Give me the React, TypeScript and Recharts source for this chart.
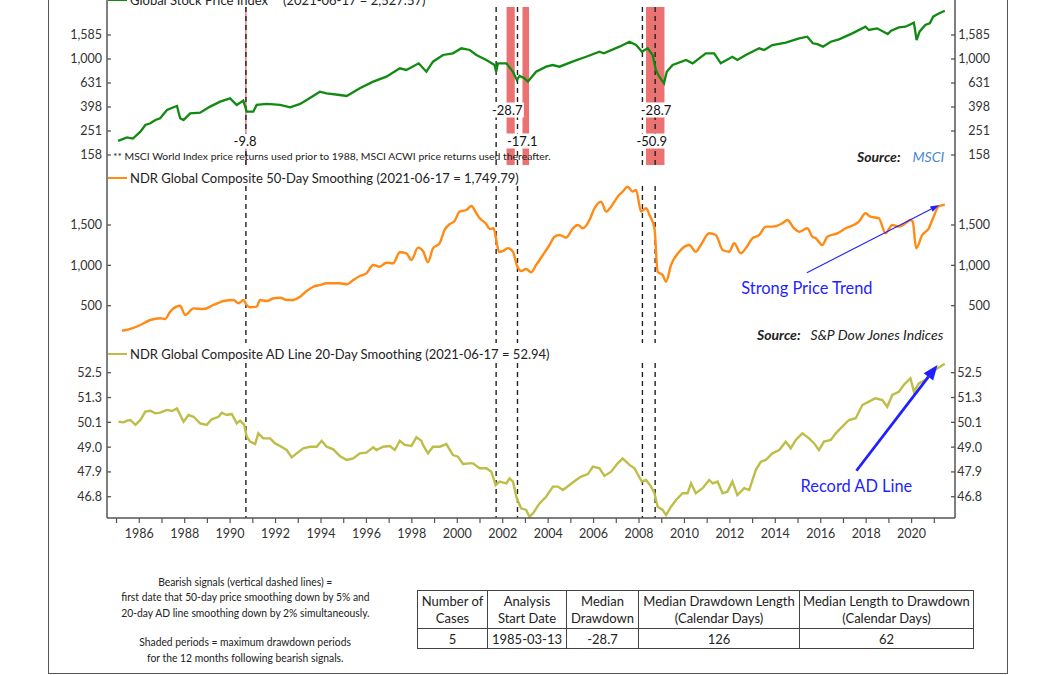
import React from 'react';
import { LineChart, Line, XAxis, YAxis, ReferenceLine, ReferenceArea } from 'recharts';

// ---------------- data ----------------
const stockYears = [
  1985.07, 1985.46, 1985.72, 1986.05, 1986.27, 1986.49, 1986.71, 1986.92, 1987.22, 1987.51,
  1987.66, 1987.80, 1987.95, 1988.24, 1988.68, 1989.12, 1989.56, 1990.00, 1990.29, 1990.58,
  1990.73, 1991.02, 1991.17, 1991.61, 1992.20, 1992.64, 1993.08, 1993.37, 1993.95, 1994.25,
  1994.83, 1995.13, 1995.71, 1996.30, 1996.88, 1997.47, 1997.76, 1998.30, 1998.64, 1998.93,
  1999.37, 1999.81, 2000.18, 2000.55, 2000.84, 2001.28, 2001.64, 2001.71, 2001.79, 2002.16,
  2002.45, 2002.62, 2002.74, 2002.96, 2003.11, 2003.47, 2003.91, 2004.20, 2004.50, 2005.07,
  2005.67, 2006.26, 2006.45, 2007.14, 2007.58, 2007.87, 2008.13, 2008.38, 2008.60, 2008.74,
  2008.89, 2009.10, 2009.22, 2009.48, 2010.07, 2010.36, 2010.94, 2011.31, 2011.60, 2012.11,
  2012.33, 2012.70, 2013.29, 2013.51, 2013.87, 2014.46, 2015.05, 2015.41, 2015.65, 2015.85,
  2016.10, 2016.44, 2016.80, 2017.39, 2017.97, 2018.12, 2018.48, 2018.95, 2019.10, 2019.44,
  2019.73, 2020.10, 2020.22, 2020.35, 2020.60, 2020.80, 2020.95, 2021.15, 2021.46,
];
const stockValues = [
  208, 222, 217, 248, 282, 291, 310, 321, 376, 396,
  406, 321, 310, 352, 357, 401, 441, 470, 414, 450,
  364, 364, 414, 422, 414, 396, 422, 455, 534, 517,
  501, 492, 570, 648, 712, 836, 810, 920, 783, 950,
  1080, 1115, 1227, 1189, 1080, 981, 891, 783, 920, 920,
  783, 668, 722, 690, 648, 783, 863, 891, 863, 950,
  1044, 1151, 1115, 1267, 1393, 1308, 1151, 1227, 1080, 810,
  712, 627, 783, 891, 981, 920, 1115, 1115, 920, 1044,
  981, 1080, 1227, 1189, 1308, 1368, 1486, 1535, 1351, 1330,
  1267, 1393, 1459, 1636, 1859, 1745, 1801, 1616, 1722, 1836,
  1859, 2008, 1439, 1690, 1919, 1983, 2253, 2371, 2527.57,
];

const navYears = [
  1985.24, 1985.68, 1986.05, 1986.49, 1986.92, 1987.14, 1987.36, 1987.80, 1988.02, 1988.39,
  1988.83, 1989.27, 1989.71, 1990.15, 1990.37, 1990.59, 1990.73, 1990.88, 1991.17, 1991.32,
  1991.61, 1991.91, 1992.20, 1992.50, 1992.79, 1993.08, 1993.37, 1993.66, 1993.95, 1994.25,
  1994.54, 1994.83, 1995.13, 1995.42, 1995.71, 1996.00, 1996.30, 1996.59, 1996.88, 1997.18,
  1997.47, 1997.76, 1997.98, 1998.27, 1998.49, 1998.71, 1998.93, 1999.22, 1999.44, 1999.66,
  1999.88, 2000.10, 2000.40, 2000.62, 2000.84, 2000.99, 2001.25, 2001.45, 2001.60, 2001.69,
  2001.84, 2002.01, 2002.23, 2002.45, 2002.62, 2002.81, 2003.03, 2003.25, 2003.47, 2003.77,
  2004.06, 2004.28, 2004.50, 2004.79, 2005.09, 2005.31, 2005.53, 2005.82, 2006.04, 2006.33,
  2006.55, 2006.77, 2007.06, 2007.28, 2007.50, 2007.72, 2007.87, 2008.09, 2008.31, 2008.46,
  2008.68, 2008.82, 2009.04, 2009.19, 2009.41, 2009.77, 2010.21, 2010.50, 2010.72, 2011.09,
  2011.38, 2011.68, 2011.97, 2012.19, 2012.48, 2012.70, 2012.99, 2013.29, 2013.58, 2013.87,
  2014.31, 2014.53, 2014.82, 2015.05, 2015.41, 2015.63, 2015.78, 2016.07, 2016.29, 2016.73,
  2017.10, 2017.68, 2017.97, 2018.19, 2018.56, 2018.85, 2019.15, 2019.44, 2019.73, 2019.95,
  2020.05, 2020.20, 2020.47, 2020.76, 2020.94, 2021.20, 2021.46,
];
const navValues = [
  190, 220, 261, 323, 344, 335, 426, 500, 385, 467,
  459, 509, 558, 571, 530, 571, 509, 480, 488, 571,
  558, 592, 599, 571, 571, 612, 682, 735, 756, 778,
  778, 778, 765, 818, 868, 901, 1004, 983, 1033, 1025,
  1162, 1149, 1066, 1219, 1178, 1038, 1211, 1273, 1438, 1509,
  1549, 1665, 1686, 1735, 1645, 1583, 1520, 1450, 1460, 1355,
  1165, 1178, 1211, 1169, 1004, 930, 955, 914, 1004, 1128,
  1252, 1355, 1376, 1343, 1459, 1500, 1459, 1562, 1707, 1789,
  1665, 1727, 1851, 1913, 1974, 1913, 1934, 1665, 1707, 1624,
  1459, 921, 881, 797, 1004, 1169, 1252, 1169, 1252, 1397,
  1376, 1190, 1169, 1273, 1149, 1211, 1335, 1376, 1479, 1479,
  1521, 1562, 1459, 1417, 1459, 1355, 1335, 1252, 1355, 1397,
  1459, 1541, 1645, 1603, 1583, 1397, 1500, 1479, 1521, 1562,
  1541, 1211, 1376, 1459, 1583, 1732, 1749.79,
];

const adYears = [
  1985.09, 1985.31, 1985.46, 1985.61, 1985.83, 1986.05, 1986.27, 1986.49, 1986.70, 1986.92,
  1987.22, 1987.44, 1987.66, 1987.95, 1988.17, 1988.39, 1988.68, 1988.97, 1989.19, 1989.49,
  1989.63, 1989.85, 1990.07, 1990.29, 1990.44, 1990.62, 1990.73, 1990.88, 1991.10, 1991.24,
  1991.46, 1991.76, 1991.98, 1992.20, 1992.49, 1992.71, 1992.93, 1993.22, 1993.52, 1993.81,
  1994.03, 1994.25, 1994.54, 1994.83, 1995.13, 1995.42, 1995.71, 1996.00, 1996.30, 1996.44,
  1996.74, 1997.03, 1997.25, 1997.47, 1997.69, 1997.98, 1998.20, 1998.42, 1998.49, 1998.71,
  1998.93, 1999.23, 1999.52, 1999.81, 2000.03, 2000.25, 2000.54, 2000.69, 2000.98, 2001.28,
  2001.50, 2001.69, 2001.86, 2002.16, 2002.30, 2002.45, 2002.62, 2002.81, 2003.03, 2003.18,
  2003.33, 2003.62, 2003.91, 2004.21, 2004.43, 2004.65, 2004.94, 2005.23, 2005.45, 2005.75,
  2005.97, 2006.26, 2006.48, 2006.77, 2007.06, 2007.28, 2007.58, 2007.80, 2008.12, 2008.31,
  2008.53, 2008.68, 2008.82, 2009.04, 2009.19, 2009.41, 2009.63, 2009.92, 2010.14, 2010.29,
  2010.50, 2010.80, 2011.09, 2011.24, 2011.46, 2011.68, 2011.89, 2012.11, 2012.33, 2012.63,
  2012.85, 2013.14, 2013.36, 2013.58, 2013.87, 2014.17, 2014.46, 2014.68, 2014.90, 2015.19,
  2015.49, 2015.71, 2015.92, 2016.14, 2016.44, 2016.66, 2016.95, 2017.24, 2017.54, 2017.83,
  2018.12, 2018.41, 2018.71, 2018.93, 2019.15, 2019.44, 2019.66, 2019.95, 2020.10, 2020.32,
  2020.61, 2020.90, 2021.46,
];
const adValues = [
  50.17, 50.14, 50.22, 50.25, 50.02, 50.25, 50.64, 50.68, 50.56, 50.59,
  50.72, 50.67, 50.79, 50.17, 50.48, 50.40, 50.09, 50.02, 50.28, 50.40,
  50.59, 50.48, 50.53, 50.09, 50.22, 50.02, 49.48, 49.25, 49.14, 49.63,
  49.40, 49.40, 49.17, 49.05, 48.87, 48.54, 48.72, 48.95, 49.02, 49.02,
  49.29, 49.02, 48.90, 48.60, 48.42, 48.49, 48.72, 48.75, 48.99, 48.87,
  49.02, 49.05, 48.87, 49.29, 49.10, 49.05, 49.45, 49.29, 49.10, 48.72,
  49.02, 49.02, 49.14, 48.64, 48.57, 48.24, 48.27, 48.27, 48.05, 48.05,
  47.90, 47.31, 47.46, 47.38, 47.60, 47.46, 46.73, 46.30, 46.23, 45.94,
  46.08, 46.51, 46.80, 47.24, 47.24, 47.09, 47.31, 47.53, 47.68, 47.79,
  48.12, 48.05, 47.71, 47.90, 48.27, 48.49, 48.20, 48.05, 47.46, 47.53,
  47.24, 46.95, 46.37, 46.23, 46.01, 46.37, 46.66, 46.95, 46.95, 47.38,
  46.95, 47.17, 47.53, 47.38, 47.46, 46.95, 47.02, 47.46, 46.87, 47.17,
  47.09, 47.97, 48.34, 48.42, 48.72, 48.87, 49.25, 48.95, 49.33, 49.63,
  49.40, 49.17, 48.87, 49.25, 49.33, 49.63, 49.94, 50.25, 50.33, 50.95,
  51.11, 51.27, 51.19, 50.87, 51.43, 51.58, 51.91, 52.23, 51.58, 51.98,
  52.15, 52.55, 52.94,
];

const yearTicks = [
  1985, 1986, 1987, 1988, 1989, 1990, 1991, 1992, 1993, 1994, 1995, 1996, 1997,
  1998, 1999, 2000, 2001, 2002, 2003, 2004, 2005, 2006, 2007, 2008, 2009, 2010,
  2011, 2012, 2013, 2014, 2015, 2016, 2017, 2018, 2019, 2020, 2021,
];
const stockTicks = [158.49, 251.19, 398.11, 630.96, 1000, 1584.89];
const stockTickLabels = ['158', '251', '398', '631', '1,000', '1,585'];
const navTicks = [500, 1000, 1500];
const navTickLabels = ['500', '1,000', '1,500'];
const adTicks = [46.8, 47.888, 49.001, 50.14, 51.306, 52.5];
const adTickLabels = ['46.8', '47.9', '49.0', '50.1', '51.3', '52.5'];

const signalYears = [1990.695, 2001.71, 2002.65, 2008.15, 2008.71];
const drawdownStarts = [1990.665, 2002.17, 2002.87, 2008.31];
const drawdownEnds = [1990.725, 2002.53, 2003.16, 2009.12];
const drawdownLabelYears = [1990.66, 2002.2, 2002.86, 2008.75, 2008.56];
const drawdownLabelTexts = ['-9.8', '-28.7', '-17.1', '-28.7', '-50.9'];
const drawdownLabelTier = [0, 1, 0, 1, 0];

const priceArrow = [{ x: 2015.39, y: 909 }, { x: 2021.22, y: 1748 }];
const adArrow = [{ x: 2017.57, y: 47.94 }, { x: 2021.14, y: 52.88 }];

const tableHeaders = [
  ['Number of', 'Cases'],
  ['Analysis', 'Start Date'],
  ['Median', 'Drawdown'],
  ['Median Drawdown Length', '(Calendar Days)'],
  ['Median Length to Drawdown', '(Calendar Days)'],
];
const tableValues = ['5', '1985-03-13', '-28.7', '126', '62'];
const notesTop = [
  'Bearish signals (vertical dashed lines) =',
  'first date that 50-day price smoothing down by 5% and',
  '20-day AD line smoothing down by 2% simultaneously.',
];
const notesBottom = [
  'Shaded periods = maximum drawdown periods',
  'for the 12 months following bearish signals.',
];

// ---------------- style ----------------
const FONT = 'Lato, "DejaVu Sans", sans-serif';
const AXIS = '#555';
const GREEN = '#108a10';
const ORANGE = '#ff8a14';
const OLIVE = '#bdbd48';
const RED = '#ea7272';
const BLUE = '#1f1fff';

const X_DOMAIN: [number, number] = [1984.58, 2021.91];
const STOCK_DOMAIN: [number, number] = [130.8, 3981];
const NAV_DOMAIN: [number, number] = [38, 2243];
const AD_DOMAIN: [number, number] = [45.886, 53.965];

const stockData = stockYears.map((x, i) => ({ x, v: stockValues[i] }));
const navData = navYears.map((x, i) => ({ x, v: navValues[i] }));
const adData = adYears.map((x, i) => ({ x, v: adValues[i] }));

const yTick = (ticks: number[], labels: string[], side: 'l' | 'r', edge: number) => (props: any) => {
  const { x, y, payload } = props;
  let best = 0;
  for (let i = 1; i < ticks.length; i++) {
    if (Math.abs(ticks[i] - payload.value) < Math.abs(ticks[best] - payload.value)) best = i;
  }
  const inward = side === 'l' ? 4 : -4;
  return (
    <g>
      <line x1={x} x2={x + inward} y1={y} y2={y} stroke={AXIS} strokeWidth={1.3} />
      <text
        x={side === 'l' ? x - 5 : x + edge}
        y={y}
        dy="0.355em"
        textAnchor="end"
        fontSize={12.5}
        fill="#333"
        style={{ fontFamily: FONT }}
      >
        {labels[best]}
      </text>
    </g>
  );
};

const dashShape = (offset: number) => (p: any) => {
  const top = Math.min(p.y1, p.y2) + offset;
  const bottom = Math.max(p.y1, p.y2);
  return <line x1={p.x1} x2={p.x2} y1={top} y2={bottom} stroke="#222" strokeWidth={1.4} strokeDasharray="5 4" />;
};

const areaShape = (offset: number) => (p: any) => (
  <rect x={p.x} y={p.y + offset} width={Math.max(p.width, 1.2)} height={p.height - offset} fill={RED} />
);

const charW = (c: string) => (c === '-' ? 4.4 : c === '.' ? 3.2 : 7.5);
const ddLabel = (text: string, tier: number) => (props: any) => {
  const vb = props.viewBox || {};
  const cx = vb.x;
  const bottom = vb.y + vb.height;
  const cy = bottom - (tier ? 55 : 24);
  const w = text.split('').reduce((s, c) => s + charW(c), 0);
  return (
    <g>
      <rect x={cx - w / 2 - 1.5} y={cy - 7.5} width={w + 3} height={15} fill="#fff" />
      <text x={cx} y={cy} dy="0.36em" textAnchor="middle" fontSize={13} fill="#111" style={{ fontFamily: FONT }}>
        {text}
      </text>
    </g>
  );
};

const arrowShape = (w: number, headLen: number, headW: number, text: string) => (p: any) => {
  const { x1, y1, x2, y2 } = p;
  const ang = Math.atan2(y2 - y1, x2 - x1);
  const hx = x2 - headLen * Math.cos(ang);
  const hy = y2 - headLen * Math.sin(ang);
  const px = Math.sin(ang) * headW / 2;
  const py = -Math.cos(ang) * headW / 2;
  return (
    <g>
      <line x1={x1} y1={y1} x2={hx} y2={hy} stroke={BLUE} strokeWidth={w} />
      <polygon points={`${x2},${y2} ${hx + px},${hy + py} ${hx - px},${hy - py}`} fill={BLUE} />
      <text x={x1} y={y1 + 15} dy="0.36em" textAnchor="middle" fontSize={16.4} fill={BLUE} style={{ fontFamily: FONT }}>
        {text}
      </text>
    </g>
  );
};

const axisLine = { stroke: AXIS, strokeWidth: 1.5 };

function yAxes(ticks: number[], labels: string[], domain: [number, number], log: boolean, edge: number) {
  return [
    <YAxis
      key="l"
      yAxisId="l"
      orientation="left"
      type="number"
      scale={log ? 'log' : 'linear'}
      domain={domain}
      allowDataOverflow
      ticks={ticks}
      interval={0}
      width={107}
      tickSize={0}
      tickMargin={0}
      tickLine={false}
      axisLine={axisLine}
      tick={yTick(ticks, labels, 'l', 0)}
    />,
    <YAxis
      key="r"
      yAxisId="r"
      orientation="right"
      type="number"
      scale={log ? 'log' : 'linear'}
      domain={domain}
      allowDataOverflow
      ticks={ticks}
      interval={0}
      width={101}
      tickSize={0}
      tickMargin={0}
      tickLine={false}
      axisLine={axisLine}
      tick={yTick(ticks, labels, 'r', edge)}
    />,
  ];
}

function dashLines(offset: number) {
  return signalYears.map((s, i) => (
    <ReferenceLine key={'s' + i} x={s} yAxisId="l" shape={dashShape(offset)} ifOverflow="visible" />
  ));
}

function Legend({ cy, color, children }: any) {
  return (
    <div
      style={{
        position: 'absolute',
        left: 108,
        top: cy - 9,
        height: 18,
        display: 'flex',
        alignItems: 'center',
        fontSize: 13,
        color: '#222',
        whiteSpace: 'nowrap',
      }}
    >
      <span style={{ display: 'inline-block', width: 19, height: 2, background: color, marginRight: 3 }} />
      {children}
    </div>
  );
}

const abs = (left: number, cy: number, extra: any = {}) => ({
  position: 'absolute' as const,
  left,
  top: cy - 8,
  height: 16,
  lineHeight: '16px',
  whiteSpace: 'nowrap' as const,
  ...extra,
});

export default function App() {
  return (
    <div
      style={{
        position: 'absolute',
        left: 0,
        top: 0,
        width: 1056,
        height: 675,
        overflow: 'hidden',
        background: '#fff',
        fontFamily: FONT,
        color: '#222',
      }}
    >
      {/* outer frame */}
      <div
        style={{
          position: 'absolute',
          left: 48,
          top: -20,
          width: 960,
          height: 694,
          boxSizing: 'border-box',
          borderLeft: '1.5px solid #555',
          borderRight: '1.5px solid #555',
          borderBottom: '1.5px solid #555',
        }}
      />

      {/* Panel 1: Global Stock Price Index */}
      <div style={{ position: 'absolute', left: 0, top: -13 }}>
        <LineChart width={1056} height={179} data={stockData} margin={{ top: 0, right: 0, bottom: 1, left: 0 }}>
          <XAxis type="number" dataKey="x" domain={X_DOMAIN} allowDataOverflow height={0} tick={false} tickLine={false} axisLine={axisLine} />
          {yAxes(stockTicks, stockTickLabels, STOCK_DOMAIN, true, 35)}
          {drawdownStarts.map((s, i) => (
            <ReferenceArea key={'a' + i} yAxisId="l" x1={s} x2={drawdownEnds[i]} shape={areaShape(20)} ifOverflow="visible" />
          ))}
          {dashLines(20)}
          <Line yAxisId="l" dataKey="v" type="linear" stroke={GREEN} strokeWidth={2.3} dot={false} isAnimationActive={false} />
          {drawdownLabelYears.map((yr, i) => (
            <ReferenceLine
              key={'lb' + i}
              x={yr}
              yAxisId="l"
              stroke="none"
              ifOverflow="visible"
              label={ddLabel(drawdownLabelTexts[i], drawdownLabelTier[i])}
            />
          ))}
        </LineChart>
      </div>

      {/* Panel 2: 50-day smoothing */}
      <div style={{ position: 'absolute', left: 0, top: 165 }}>
        <LineChart width={1056} height={179} data={navData} margin={{ top: 0, right: 0, bottom: 1, left: 0 }}>
          <XAxis type="number" dataKey="x" domain={X_DOMAIN} allowDataOverflow height={0} tick={false} tickLine={false} axisLine={axisLine} />
          {yAxes(navTicks, navTickLabels, NAV_DOMAIN, false, 35)}
          {dashLines(21)}
          <Line yAxisId="l" dataKey="v" type="monotone" stroke={ORANGE} strokeWidth={2.4} dot={false} isAnimationActive={false} />
          <ReferenceLine yAxisId="l" segment={priceArrow} ifOverflow="visible" shape={arrowShape(1.1, 9, 6, 'Strong Price Trend')} />
        </LineChart>
      </div>

      {/* Panel 3: AD line */}
      <div style={{ position: 'absolute', left: 0, top: 343 }}>
        <LineChart width={1056} height={205} data={adData} margin={{ top: 0, right: 0, bottom: 0, left: 0 }}>
          <XAxis
            type="number"
            dataKey="x"
            domain={X_DOMAIN}
            allowDataOverflow
            ticks={yearTicks}
            interval={0}
            height={30}
            tickSize={5}
            tickMargin={6}
            tickFormatter={(v: number) => (v % 2 === 0 ? String(v) : '')}
            tick={{ fontSize: 12.5, fill: '#333', fontFamily: FONT }}
            tickLine={{ stroke: AXIS, strokeWidth: 1.2 }}
            axisLine={axisLine}
          />
          {yAxes(adTicks, adTickLabels, AD_DOMAIN, true, 27)}
          {dashLines(20)}
          <Line yAxisId="l" dataKey="v" type="linear" stroke={OLIVE} strokeWidth={2.4} dot={false} isAnimationActive={false} />
          <ReferenceLine yAxisId="l" segment={adArrow} ifOverflow="visible" shape={arrowShape(2.8, 15, 12, 'Record AD Line')} />
        </LineChart>
      </div>

      {/* legends */}
      <Legend cy={-0.3} color={GREEN}>
        <span>Global Stock Price Index</span>
        <span style={{ marginLeft: 15 }}>(2021-06-17 = 2,527.57)</span>
      </Legend>
      <Legend cy={177.5} color={ORANGE}>
        <span>NDR Global Composite 50-Day Smoothing (2021-06-17 = 1,749.79)</span>
      </Legend>
      <Legend cy={354} color={OLIVE}>
        <span>NDR Global Composite AD Line 20-Day Smoothing (2021-06-17 = 52.94)</span>
      </Legend>

      {/* footnote & sources */}
      <div style={abs(113, 155.5, { fontSize: 10.4 })}>
        ** MSCI World Index price returns used prior to 1988, MSCI ACWI price returns used thereafter.
      </div>
      <div style={abs(857, 156.5, { fontSize: 14 })}>
        <span style={{ fontWeight: 700, fontStyle: 'italic' }}>Source:</span>
        <span style={{ marginLeft: 12, fontStyle: 'italic', color: '#4a88cc' }}>MSCI</span>
      </div>
      <div style={abs(757, 335, { fontSize: 14 })}>
        <span style={{ fontWeight: 700, fontStyle: 'italic' }}>Source:</span>
        <span style={{ marginLeft: 10, fontStyle: 'italic' }}>S&amp;P Dow Jones Indices</span>
      </div>

      {/* notes */}
      {notesTop.map((t, i) => (
        <div key={'nt' + i} style={abs(45, 582 + i * 15.3, { width: 400, textAlign: 'center', fontSize: 12 })}>
          <span style={{ display: 'inline-block', transform: 'scaleX(0.86)' }}>{t}</span>
        </div>
      ))}
      {notesBottom.map((t, i) => (
        <div key={'nb' + i} style={abs(45, 642 + i * 15.5, { width: 400, textAlign: 'center', fontSize: 12 })}>
          <span style={{ display: 'inline-block', transform: 'scaleX(0.86)' }}>{t}</span>
        </div>
      ))}

      {/* table */}
      <table
        style={{
          position: 'absolute',
          left: 417,
          top: 590,
          borderCollapse: 'collapse',
          fontSize: 13,
          color: '#222',
          tableLayout: 'fixed',
          width: 556,
        }}
      >
        <colgroup>
          <col style={{ width: 70 }} />
          <col style={{ width: 79 }} />
          <col style={{ width: 72 }} />
          <col style={{ width: 161 }} />
          <col style={{ width: 174 }} />
        </colgroup>
        <tbody>
          <tr style={{ height: 38 }}>
            {tableHeaders.map((h, i) => (
              <td key={'h' + i} style={{ border: '1px solid #444', textAlign: 'center', padding: 0, lineHeight: '17px', whiteSpace: 'nowrap', overflow: 'hidden' }}>
                {h[0]}
                <br />
                {h[1]}
              </td>
            ))}
          </tr>
          <tr style={{ height: 20 }}>
            {tableValues.map((v, i) => (
              <td key={'v' + i} style={{ border: '1px solid #444', textAlign: 'center', padding: 0, lineHeight: '18px' }}>
                {v}
              </td>
            ))}
          </tr>
        </tbody>
      </table>
    </div>
  );
}
